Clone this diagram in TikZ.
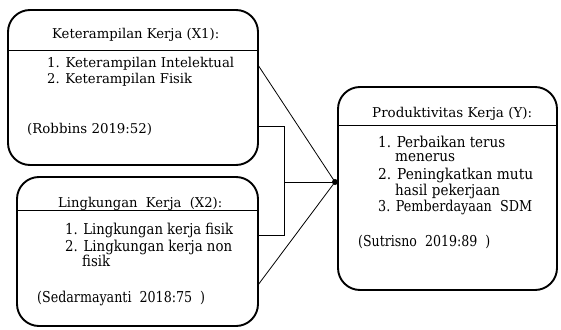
\documentclass[tikz,border=0pt]{standalone}
\usepackage{fontspec}
\usepackage{graphicx}
\setmainfont{DejaVu Serif}
\newcommand\fw[2]{\resizebox{#1pt}{\height}{#2}}
\begin{document}
\begin{tikzpicture}[x=1pt,y=-1pt,
  box/.style={draw,line width=1.9pt,rounded corners=22pt,inner sep=0pt},
  txt/.style={anchor=base west,inner sep=0pt,font=\fontsize{15}{17}\selectfont},
  small/.style={font=\fontsize{13.5}{16}\selectfont},
  thin/.style={line width=0.8pt}]
\useasboundingbox (0,0) rectangle (561,329);
% boxes
\node[box,minimum width=250pt,minimum height=155pt] (b1) at (133,87.5) {};
\node[box,minimum width=241pt,minimum height=149pt] (b2) at (137.5,251.5) {};
\node[box,minimum width=219pt,minimum height=203pt] (b3) at (447.5,188.5) {};
% dividers
\draw[thin] ([yshift=-41pt]b1.north west) -- ([yshift=-41pt]b1.north east);
\draw[thin] ([yshift=-34pt]b2.north west) -- ([yshift=-34pt]b2.north east);
\draw[thin] ([yshift=-39pt]b3.north west) -- ([yshift=-39pt]b3.north east);
% box 1 text
\node[txt,small] (t1) at (52,39) {\fw{167}{Keterampilan Kerja (X1):}};
\node[txt,small] (t1a) at (47,67) {\fw{187}{1. Keterampilan Intelektual}};
\node[txt,small] (t1b) at (47,83) {\fw{145}{2. Keterampilan Fisik}};
\node[txt,small] (t1c) at (27,133) {\fw{125}{(Robbins 2019:52)}};
% box 2 text
\node[txt,small] (t2) at (58,207) {\fw{164}{Lingkungan\ \ Kerja\ \ (X2):}};
\node[txt] (t2a) at (65,234) {\fw{168}{1. Lingkungan kerja fisik}};
\node[txt] (t2b) at (65,251) {\fw{167}{2. Lingkungan kerja non}};
\node[txt] (t2c) at (82,266) {\fw{28}{fisik}};
\node[txt] (t2d) at (37,302) {\fw{168}{(Sedarmayanti\ \ 2018:75\ \ )}};
% box 3 text
\node[txt,small] (t3) at (372,117) {\fw{160}{Produktivitas Kerja (Y):}};
\node[txt] (t3a) at (378,147.5) {\fw{127}{1. Perbaikan terus}};
\node[txt] (t3b) at (395,161) {\fw{60}{menerus}};
\node[txt] (t3c) at (378,179) {\fw{155}{2. Peningkatkan\ mutu}};
\node[txt] (t3d) at (395,195) {\fw{105}{hasil pekerjaan}};
\node[txt] (t3e) at (378,211) {\fw{154}{3. Pemberdayaan\ \ SDM}};
\node[txt] (t3f) at (358,246.5) {\fw{132}{(Sutrisno\ \ 2019:89\ \ )}};
% connector points
\coordinate (p1) at (258,65);
\coordinate (p2) at (258,126);
\coordinate (p3) at (284,126);
\coordinate (p4) at (284,235);
\coordinate (p5) at (258,235);
\coordinate (p6) at (284,182);
\coordinate (p7) at (258,285);
\node[circle,fill,inner sep=0pt,minimum size=6pt] (dot) at (335,182) {};
\draw[thin] (p1) -- (dot.center);
\draw[thin] (p2) -- (p3) -- (p4) -- (p5);
\draw[thin] (p6) -- (dot.center);
\draw[thin] (p7) -- (dot.center);
\end{tikzpicture}
\end{document}
